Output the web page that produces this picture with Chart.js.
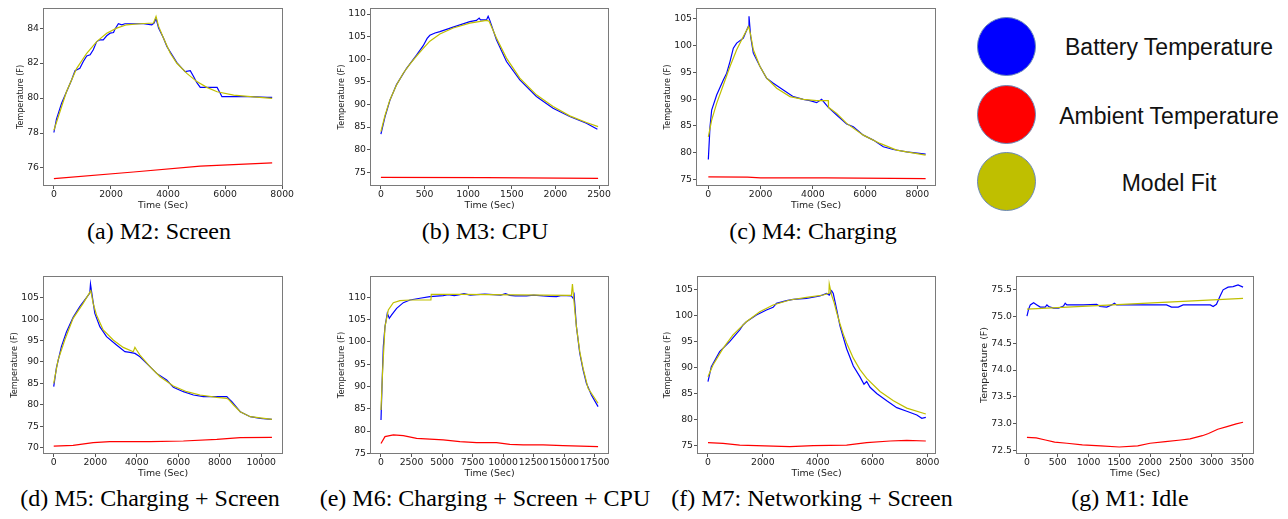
<!DOCTYPE html>
<html>
<head>
<meta charset="utf-8">
<script src="https://cdn.jsdelivr.net/npm/chart.js@4.4.0/dist/chart.umd.min.js"></script>
<style>
body { margin:0; background:#fff; }
#page { position:relative; width:1288px; height:519px; overflow:hidden; background:#fff; }
canvas { position:absolute; }
.cap { position:absolute; width:400px; text-align:center; font-family:"Liberation Serif", serif; font-size:24px; line-height:30px; color:#000; white-space:nowrap; }
.dot { position:absolute; width:59px; height:59px; border-radius:50%; box-sizing:border-box; border:1px solid #6a88b8; }
.lab { position:absolute; width:300px; text-align:center; font-family:"Liberation Sans", sans-serif; font-size:23px; line-height:30px; color:#111; white-space:nowrap; }
</style>
</head>
<body>
<div id="page">
  <div class="cap" style="left:-41px; top:216px;">(a) M2: Screen</div>
  <div class="cap" style="left:285px; top:216px;">(b) M3: CPU</div>
  <div class="cap" style="left:613px; top:216px;">(c) M4: Charging</div>
  <div class="cap" style="left:-50px; top:483px;">(d) M5: Charging + Screen</div>
  <div class="cap" style="left:285px; top:483px;">(e) M6: Charging + Screen + CPU</div>
  <div class="cap" style="left:612px; top:483px;">(f) M7: Networking + Screen</div>
  <div class="cap" style="left:930px; top:483px;">(g) M1: Idle</div>

  <div class="dot" style="left:977px; top:17px; background:#0000ff;"></div>
  <div class="dot" style="left:977px; top:85px; background:#ff0000;"></div>
  <div class="dot" style="left:977px; top:152px; background:#bfbf00;"></div>
  <div class="lab" style="left:1019px; top:32px;">Battery Temperature</div>
  <div class="lab" style="left:1019px; top:101px;">Ambient Temperature</div>
  <div class="lab" style="left:1019px; top:168px;">Model Fit</div>
</div>
<script>
// (a) M2: Screen
var aBatT = [0, 90, 270, 620, 740, 910, 1030, 1150, 1270, 1380, 1500, 1620, 1730, 1850, 1970, 2090, 2140, 2260, 2380, 2490, 2790, 3140, 3430, 3510, 3580, 3670, 3840, 3960, 4140, 4310, 4490, 4600, 4780, 4900, 5010, 5130, 5360, 5720, 5830, 5890, 6300, 6890, 7470, 7650];
var aBatY = [78.03, 78.8, 79.7, 81.03, 81.57, 81.7, 82.09, 82.41, 82.47, 82.76, 83.23, 83.33, 83.33, 83.56, 83.71, 83.75, 83.94, 84.25, 84.19, 84.25, 84.25, 84.25, 84.19, 84.29, 84.55, 84.0, 83.43, 82.95, 82.47, 82.03, 81.7, 81.51, 81.57, 81.22, 80.88, 80.61, 80.61, 80.61, 80.27, 80.08, 80.08, 80.08, 80.04, 80.04];
var aFitT = [0, 440, 800, 1150, 1500, 1850, 2200, 2550, 3020, 3490, 3580, 3670, 3840, 4080, 4310, 4660, 5010, 5360, 5720, 6300, 6890, 7650];
var aFitY = [78.16, 80.36, 81.7, 82.56, 83.23, 83.71, 84.0, 84.19, 84.25, 84.29, 84.67, 84.1, 83.43, 82.56, 81.99, 81.41, 80.94, 80.61, 80.36, 80.17, 80.08, 79.98];
var aAmbT = [0, 2790, 5130, 7650];
var aAmbY = [75.39, 75.77, 76.11, 76.29];

// (b) M3: CPU
var bBatT = [0, 46, 103, 179, 294, 408, 485, 530, 561, 620, 676, 828, 1019, 1095, 1126, 1141, 1210, 1229, 1248, 1324, 1439, 1592, 1782, 1973, 2164, 2355, 2481];
var bBatY = [83.42, 87.2, 90.9, 94.4, 98.0, 100.9, 103.0, 104.6, 105.3, 105.8, 106.1, 107.1, 108.3, 108.6, 109.1, 108.7, 108.7, 109.5, 108.6, 104.3, 99.5, 95.45, 91.76, 89.18, 87.33, 85.85, 84.5];
var bFitT = [0, 46, 103, 179, 256, 332, 408, 485, 561, 676, 828, 1019, 1210, 1240, 1324, 1439, 1592, 1782, 1973, 2164, 2355, 2489];
var bFitY = [84.0, 87.5, 91.0, 94.3, 96.9, 98.9, 100.7, 102.4, 104.0, 105.6, 106.9, 108.0, 108.6, 108.4, 104.68, 100.25, 95.82, 92.13, 89.55, 87.48, 86.0, 85.1];
var bAmbT = [0, 1200, 2489];
var bAmbY = [73.89, 73.8, 73.67];

// (c) M4: Charging
var cBatT = [0, 64, 128, 319, 574, 702, 829, 957, 1085, 1340, 1531, 1557, 1620, 1723, 1978, 2233, 2488, 2871, 3254, 3636, 3891, 4147, 4338, 4594, 4913, 5296, 5551, 5934, 6317, 6699, 7082, 7592, 8319];
var cBatY = [78.74, 84.85, 87.97, 90.78, 93.59, 94.83, 97.0, 99.51, 100.45, 101.38, 103.57, 105.44, 101.7, 98.58, 96.08, 93.9, 92.96, 91.72, 90.47, 89.97, 89.72, 89.35, 89.97, 88.47, 87.04, 85.35, 84.85, 83.29, 82.36, 81.11, 80.61, 80.18, 79.74];
var cFitT = [0, 128, 319, 574, 829, 1085, 1340, 1544, 1620, 1723, 1978, 2233, 2616, 3126, 3636, 4147, 4594, 4600, 4913, 5296, 5934, 6572, 7209, 8319];
var cFitY = [82.98, 86.1, 89.22, 92.65, 96.08, 99.2, 101.7, 103.57, 102.0, 99.2, 96.08, 93.9, 92.03, 90.47, 89.97, 89.72, 89.72, 88.47, 87.35, 85.48, 83.29, 81.74, 80.49, 79.56];
var cAmbT = [0, 1500, 2000, 4500, 8319];
var cAmbY = [75.5, 75.45, 75.3, 75.3, 75.19];

// (d) M5: Charging + Screen
var dBatT = [0, 129, 370, 612, 934, 1256, 1578, 1739, 1771, 1836, 1981, 2222, 2544, 3027, 3430, 3671, 3913, 4155, 4477, 4960, 5443, 5765, 6248, 6731, 7214, 7858, 8341, 8422, 8583, 8986, 9469, 9952, 10515];
var dBatY = [84.23, 88.6, 93.6, 97.0, 100.4, 102.9, 105.0, 106.1, 108.19, 106.0, 101.34, 98.23, 95.9, 93.96, 92.4, 92.24, 92.0, 91.23, 89.68, 87.34, 85.79, 84.08, 83.07, 82.29, 81.9, 81.9, 81.9, 81.51, 80.73, 78.4, 77.23, 76.84, 76.61];
var dFitT = [0, 209, 531, 934, 1417, 1787, 1900, 2061, 2383, 2866, 3349, 3833, 3913, 3994, 4155, 4638, 5121, 5765, 6409, 7053, 7858, 8341, 8422, 8663, 8986, 9469, 10515];
var dFitY = [85.0, 90.45, 95.12, 100.18, 103.68, 106.63, 103.68, 100.96, 97.46, 95.12, 93.41, 92.4, 93.41, 92.79, 91.62, 88.9, 86.57, 84.39, 83.07, 82.29, 81.74, 81.51, 81.28, 79.96, 78.4, 77.23, 76.61];
var dAmbT = [0, 934, 1900, 2705, 4638, 6248, 7858, 8986, 10515];
var dAmbY = [70.39, 70.54, 71.17, 71.4, 71.4, 71.56, 71.94, 72.33, 72.41];

// (e) M6: Charging + Screen + CPU
var eBatT = [0, 82, 191, 327, 518, 681, 872, 1281, 1826, 2372, 3189, 4007, 5098, 5500, 6000, 6460, 6800, 7300, 7824, 8500, 9187, 9800, 10200, 10550, 11000, 11913, 12500, 13276, 13800, 14366, 14800, 15593, 15729, 15811, 16002, 16275, 16547, 16820, 17229, 17774];
var eBatY = [82.48, 89.96, 98.93, 103.42, 106.41, 105.29, 106.04, 107.53, 108.8, 109.4, 109.78, 110.15, 110.37, 110.6, 110.4, 110.6, 110.8, 110.5, 110.6, 110.7, 110.6, 110.5, 110.8, 110.45, 110.3, 110.3, 110.5, 110.3, 110.2, 110.15, 110.4, 110.3, 109.78, 110.52, 103.42, 97.44, 93.7, 90.7, 88.09, 85.47];
var eFitT = [0, 136, 327, 600, 1009, 1554, 2372, 4089, 4116, 6460, 15593, 15675, 15866, 16002, 16275, 16547, 16956, 17774];
var eFitY = [84.72, 93.7, 103.42, 107.16, 108.8, 109.25, 109.4, 109.4, 110.67, 110.67, 110.45, 112.99, 107.16, 103.42, 97.81, 94.07, 89.58, 86.22];
var eAmbT = [0, 327, 1009, 1826, 2917, 5098, 6460, 7824, 9460, 10550, 11640, 13276, 14911, 17774];
var eAmbY = [77.2, 78.74, 79.11, 78.96, 78.36, 77.99, 77.62, 77.39, 77.39, 77.02, 76.87, 76.87, 76.72, 76.49];

// (f) M7: Networking + Screen
var fBatT = [0, 122, 426, 791, 1157, 1279, 1400, 1766, 2131, 2374, 2496, 2861, 3105, 3592, 4079, 4323, 4420, 4505, 4566, 4688, 4810, 5053, 5297, 5540, 5686, 5784, 5906, 6149, 6515, 6880, 7245, 7611, 7793, 7939];
var fBatY = [87.28, 90.16, 93.04, 94.96, 97.2, 98.16, 98.79, 100.07, 101.03, 101.55, 102.31, 102.82, 103.08, 103.27, 103.72, 104.2, 103.9, 104.74, 104.2, 101.2, 98.0, 93.6, 90.3, 88.2, 86.8, 87.3, 86.2, 85.0, 83.6, 82.3, 81.6, 80.9, 80.24, 80.44];
var fFitT = [0, 183, 548, 913, 1400, 1887, 2374, 2983, 3592, 4201, 4408, 4420, 4505, 4600, 4688, 4810, 4931, 5053, 5297, 5540, 5784, 6271, 6758, 7245, 7939];
var fFitY = [88.24, 90.48, 93.68, 96.24, 98.79, 100.71, 101.99, 102.95, 103.46, 103.91, 104.23, 106.02, 103.91, 102.4, 100.6, 98.4, 96.4, 94.7, 91.8, 89.6, 87.9, 85.4, 83.6, 82.2, 81.07];
var fAmbT = [0, 548, 1157, 2374, 2983, 3836, 5053, 5784, 6637, 7245, 7939];
var fAmbY = [75.57, 75.44, 75.12, 74.93, 74.81, 75.0, 75.12, 75.57, 75.89, 76.02, 75.89];

// (g) M1: Idle
var gBatT = [0, 27, 54, 108, 162, 216, 297, 324, 351, 432, 513, 594, 621, 648, 918, 1134, 1188, 1296, 1377, 1420, 1458, 2268, 2349, 2458, 2538, 2980, 3025, 3079, 3133, 3187, 3268, 3349, 3430, 3511];
var gBatY = [75.0, 75.13, 75.21, 75.25, 75.21, 75.17, 75.17, 75.21, 75.18, 75.15, 75.15, 75.19, 75.24, 75.21, 75.21, 75.22, 75.18, 75.17, 75.21, 75.24, 75.21, 75.21, 75.17, 75.17, 75.21, 75.21, 75.18, 75.22, 75.36, 75.49, 75.54, 75.55, 75.58, 75.54];
var gFitT = [0, 3511];
var gFitY = [75.13, 75.33];
var gAmbT = [0, 150, 300, 450, 650, 900, 1200, 1500, 1800, 2000, 2250, 2500, 2650, 2850, 2950, 3100, 3250, 3400, 3511];
var gAmbY = [72.75, 72.74, 72.70, 72.66, 72.64, 72.61, 72.59, 72.57, 72.59, 72.64, 72.67, 72.70, 72.72, 72.78, 72.82, 72.90, 72.95, 73.0, 73.03];

// tick values
var aXTicks = [0, 2000, 4000, 6000, 8000], aYTicks = [76, 78, 80, 82, 84];
var bXTicks = [0, 500, 1000, 1500, 2000, 2500], bYTicks = [75, 80, 85, 90, 95, 100, 105, 110];
var cXTicks = [0, 2000, 4000, 6000, 8000], cYTicks = [75, 80, 85, 90, 95, 100, 105];
var dXTicks = [0, 2000, 4000, 6000, 8000, 10000], dYTicks = [70, 75, 80, 85, 90, 95, 100, 105];
var eXTicks = [0, 2500, 5000, 7500, 10000, 12500, 15000, 17500], eYTicks = [75, 80, 85, 90, 95, 100, 105, 110];
var fXTicks = [0, 2000, 4000, 6000, 8000], fYTicks = [75, 80, 85, 90, 95, 100, 105];
var gXTicks = [0, 500, 1000, 1500, 2000, 2500, 3000, 3500], gYTicks = [72.5, 73.0, 73.5, 74.0, 74.5, 75.0, 75.5];

var BLUE = '#0000ff', RED = '#ff0000', OLIVE = '#bfbf00';
var page = document.getElementById('page');

function pts(xs, ys) {
  return xs.map(function(x, i) { return {x: x, y: ys[i]}; });
}

// grey frame round the plot area, like the matplotlib spines
var frame = {
  id: 'frame',
  afterDraw: function(chart) {
    var a = chart.chartArea, ctx = chart.ctx;
    ctx.save();
    ctx.strokeStyle = '#7a7a7a';
    ctx.lineWidth = 1;
    ctx.strokeRect(Math.round(a.left) + 0.5, Math.round(a.top) + 0.5, Math.round(a.right - a.left) - 1, Math.round(a.bottom - a.top) - 1);
    ctx.restore();
  }
};

function panel(p) {
  var pt = 8, pr = 26;
  var yw = p.l - p.cl;
  var xh = p.cb - p.b;
  var cv = document.createElement('canvas');
  cv.width = yw + (p.r - p.l) + pr;
  cv.height = pt + (p.b - p.t) + xh;
  cv.style.left = p.cl + 'px';
  cv.style.top = (p.t - pt) + 'px';
  page.appendChild(cv);

  var tickFont = {family: 'DejaVu Sans', size: 9.3};
  var grid = {display: true, drawOnChartArea: false, drawTicks: true, tickLength: 3, color: '#555', lineWidth: 1};

  new Chart(cv, {
    type: 'line',
    data: {
      datasets: [
        {label: 'Model Fit', data: pts(p.fitT, p.fitY), borderColor: OLIVE, backgroundColor: OLIVE},
        {label: 'Ambient Temperature', data: pts(p.ambT, p.ambY), borderColor: RED, backgroundColor: RED},
        {label: 'Battery Temperature', data: pts(p.batT, p.batY), borderColor: BLUE, backgroundColor: BLUE}
      ]
    },
    options: {
      responsive: false,
      animation: false,
      events: [],
      layout: {padding: {left: 0, top: pt, right: pr, bottom: 0}},
      elements: {point: {radius: 0}, line: {borderWidth: 1.2, tension: 0, fill: false}},
      plugins: {legend: {display: false}, tooltip: {enabled: false}},
      scales: {
        x: {
          type: 'linear', bounds: 'data', min: p.xmin, max: p.xmax,
          afterBuildTicks: function(s) { s.ticks = p.xt.map(function(v) { return {value: v}; }); },
          afterFit: function(s) { s.height = xh; },
          grid: grid, border: {display: false},
          ticks: {font: tickFont, color: '#222', padding: 0, autoSkip: false, maxRotation: 0, minRotation: 0,
                  callback: function(v) { return String(v); }},
          title: {display: true, text: 'Time (Sec)', padding: 0, color: '#222', font: {family: 'DejaVu Sans', size: 9.4}}
        },
        y: {
          type: 'linear', bounds: 'data', min: p.ymin, max: p.ymax,
          afterBuildTicks: function(s) { s.ticks = p.yt.map(function(v) { return {value: v}; }); },
          afterFit: function(s) { s.width = yw; },
          grid: grid, border: {display: false},
          ticks: {font: tickFont, color: '#222', padding: 1, autoSkip: false,
                  callback: function(v) { return p.dec ? v.toFixed(p.dec) : String(v); }},
          title: {display: true, text: 'Temperature (F)', padding: 0, color: '#222', font: {family: 'DejaVu Sans', size: p.yfs}}
        }
      }
    },
    plugins: [frame]
  });
}

panel({l: 43, t: 8, r: 283, b: 186, cl: 16, cb: 211, yfs: 8, xmin: -382, xmax: 8030, ymin: 74.97, ymax: 85.15, xt: aXTicks, yt: aYTicks,
       batT: aBatT, batY: aBatY, fitT: aFitT, fitY: aFitY, ambT: aAmbT, ambY: aAmbY});
panel({l: 370, t: 8, r: 609, b: 186, cl: 337, cb: 211, yfs: 8.1, xmin: -125, xmax: 2614, ymin: 71.97, ymax: 111.33, xt: bXTicks, yt: bYTicks,
       batT: bBatT, batY: bBatY, fitT: bFitT, fitY: bFitY, ambT: bAmbT, ambY: bAmbY});
panel({l: 696, t: 8, r: 936, b: 186, cl: 663, cb: 211, yfs: 8.1, xmin: -472, xmax: 8716, ymin: 73.8, ymax: 107.0, xt: cXTicks, yt: cYTicks,
       batT: cBatT, batY: cBatY, fitT: cFitT, fitY: cFitY, ambT: cAmbT, ambY: cAmbY});
panel({l: 43, t: 276, r: 283, b: 454, cl: 10, cb: 479, yfs: 8.2, xmin: -517, xmax: 11048, ymin: 68.53, ymax: 110.06, xt: dXTicks, yt: dYTicks,
       batT: dBatT, batY: dBatY, fitT: dFitT, fitY: dFitY, ambT: dAmbT, ambY: dAmbY});
panel({l: 370, t: 276, r: 609, b: 454, cl: 337, cb: 479, yfs: 8.3, xmin: -900, xmax: 18669, ymin: 74.84, ymax: 114.78, xt: eXTicks, yt: eYTicks,
       batT: eBatT, batY: eBatY, fitT: eFitT, fitY: eFitY, ambT: eAmbT, ambY: eAmbY});
panel({l: 697, t: 276, r: 936, b: 454, cl: 663, cb: 479, yfs: 8.3, xmin: -400, xmax: 8310, ymin: 73.4, ymax: 107.56, xt: fXTicks, yt: fYTicks,
       batT: fBatT, batY: fBatY, fitT: fFitT, fitY: fFitY, ambT: fAmbT, ambY: fAmbY});
panel({l: 1016, t: 276, r: 1254, b: 454, cl: 979, cb: 479, yfs: 9.5, dec: 1, xmin: -178, xmax: 3689, ymin: 72.44, ymax: 75.747, xt: gXTicks, yt: gYTicks,
       batT: gBatT, batY: gBatY, fitT: gFitT, fitY: gFitY, ambT: gAmbT, ambY: gAmbY});
</script>
</body>
</html>
